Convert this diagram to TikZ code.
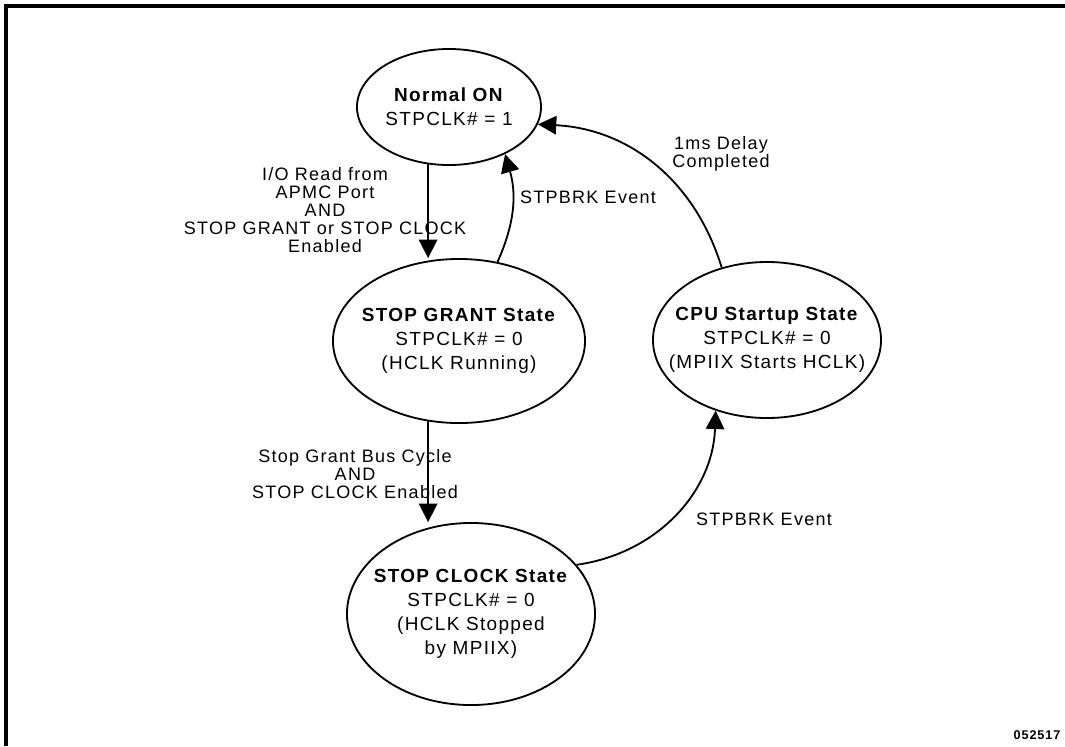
\documentclass[tikz,border=0pt]{standalone}
\usepackage{fontspec}
\setmainfont{Liberation Sans}[LetterSpace=7]
\usetikzlibrary{shapes.geometric,arrows.meta}

\begin{document}
\begin{tikzpicture}[x=0.025cm, y=0.025cm, line width=1.3pt,
  state/.style={ellipse, draw, inner xsep=-14pt, inner ysep=0pt, align=center, font=\fontsize{13.5}{17}\selectfont},
  lbl/.style={align=center, font=\fontsize{12.8}{12.8}\selectfont},
  >={Triangle[length=4.6mm, width=4.6mm]}]
\useasboundingbox (0,0) rectangle (1065,-746);
\draw[line width=2.2pt] (1065,-6) -- (6,-6) -- (6,-746);

\node[state, minimum width=4.6cm, minimum height=2.9cm] (normal) at (449, -107) {\textbf{Normal ON}\\STPCLK\# = 1};
\node[state, minimum width=6.3cm, minimum height=4.1cm] (grant) at (459, -341) {\textbf{STOP GRANT State}\\STPCLK\# = 0\\(HCLK Running)};
\node[state, minimum width=5.7cm, minimum height=3.9cm] (cpu) at (767, -340) {\textbf{CPU Startup State}\\STPCLK\# = 0\\(MPIIX Starts HCLK)};
\node[state, minimum width=6.2cm, minimum height=4.55cm] (clock) at (471, -614) {\textbf{STOP CLOCK State}\\STPCLK\# = 0\\(HCLK Stopped\\by MPIIX)};

\node[lbl] (readlbl) at (325, -210) {I/O Read from\\APMC Port\\AND\\STOP GRANT or STOP CLOCK\\Enabled};
\node[lbl] (buslbl) at (355, -474) {Stop Grant Bus Cycle\\AND\\STOP CLOCK Enabled};
\node[lbl] (brkup) at (588, -197) {STPBRK Event};
\node[lbl] (delay) at (721, -154) {1ms Delay\\Completed};
\node[lbl] (brkdown) at (764, -519) {STPBRK Event};
\node[font=\fontsize{9}{10}\selectfont\bfseries] (fignum) at (1037, -735) {052517};

\draw[->] (normal.250) -- (normal.250 |- grant.north);
\draw[->] (grant.249) -- (grant.249 |- clock.north);
\draw[->] (grant.64) to[bend right=20] (normal.320);
\draw[->] (clock.25) to[bend right=40] (cpu.234);
\draw[->] (cpu.122) to[bend right=35] (normal.349);

\end{tikzpicture}
\end{document}
